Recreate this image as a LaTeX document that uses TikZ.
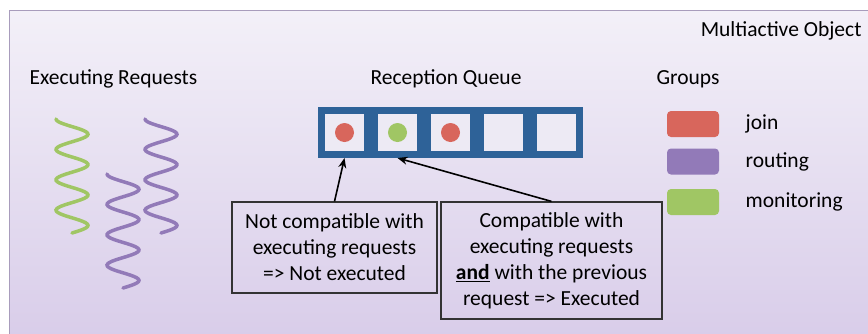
\documentclass[tikz,border=0pt]{standalone}
\usepackage{fontspec}
\setmainfont{Carlito}
\usetikzlibrary{positioning,arrows.meta}
\definecolor{bgtop}{RGB}{243,240,248}
\definecolor{bgbot}{RGB}{216,204,233}
\definecolor{bgline}{RGB}{168,156,188}
\definecolor{qblue}{RGB}{46,98,152}
\definecolor{cellfill}{RGB}{237,234,244}
\definecolor{grpred}{RGB}{216,102,92}
\definecolor{grppurple}{RGB}{146,122,184}
\definecolor{grpgreen}{RGB}{160,198,100}

\begin{document}
\begin{tikzpicture}[x=1pt,y=-1pt,
    every node/.style={font=\fontsize{21.5}{26}\selectfont,text=black},
    cell/.style={draw=qblue,line width=7pt,fill=cellfill,minimum width=46pt,minimum height=44pt,inner sep=0pt},
    dot/.style={circle,minimum size=19pt,inner sep=0pt,fill=#1},
    swatch/.style={rounded corners=4pt,fill=#1,minimum width=52pt,minimum height=26pt,inner sep=0pt},
    note/.style={draw=black!80,line width=1.2pt,align=center,inner sep=0pt},
    squiggle/.style={line width=3.5pt,line cap=round,#1},
    pointer/.style={-{Stealth[length=10pt,width=8pt]},line width=1.6pt}]
  \useasboundingbox (0,0) rectangle (868,333);
  \shade[top color=bgtop,bottom color=bgbot,draw=bgline,line width=1pt] (9,10) rectangle (880,345);
  \node[anchor=east] (title) at (865,31) {Multiactive Object};
  \node (execlabel) at (113.5,79) {Executing Requests};
  \node (queuelabel) at (446,79) {Reception Queue};
  \node[anchor=west] (groupslabel) at (653,79) {Groups};
  \foreach \sx/\sy/\sc in {72/119/grpgreen,123/174/grppurple,161/119/grppurple}
    \draw[squiggle=\sc] plot[domain=0:114,samples=90,smooth] ({\sx-16*cos(\x/30.4*360)},{\sy+\x});
  \foreach \i in {1,...,5}
    \node[cell] (q\i) at (344.5+53*\i-53,132.5) {};
  \node[dot=grpred] (d1) at (q1) {};
  \node[dot=grpgreen] (d2) at (q2) {};
  \node[dot=grpred] (d3) at (q3) {};
  \foreach \g/\c/\y in {join/grpred/124,routing/grppurple/161.5,monitoring/grpgreen/202}{
    \node[swatch=\c] (sw\g) at (693,\y) {};
    \node[right=23pt of sw\g] (lab\g) {\g};
  }
  \node[note,minimum width=205pt,minimum height=91pt] (notcomp) at (334.5,247.5)
    {Not compatible with\\executing requests\\=> Not executed};
  \node[note,minimum width=221pt,minimum height=117pt] (comp) at (551.5,260.5)
    {Compatible with\\executing requests\\\underline{\textbf{and}} with the previous\\request => Executed};
  \draw[pointer] (notcomp.north) -- (q1.south);
  \draw[pointer] (comp.north) -- (q2.south);
\end{tikzpicture}
\end{document}
